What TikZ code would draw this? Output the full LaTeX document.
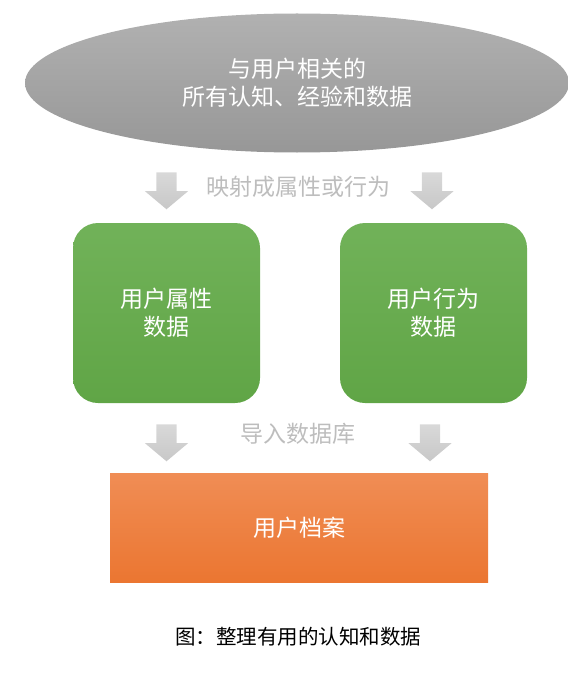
\documentclass[tikz,border=0pt]{standalone}
\usepackage{fontspec}
\setmainfont{Noto Sans CJK SC}
\usetikzlibrary{shapes.geometric, shapes.arrows}

\definecolor{ellgray}{HTML}{A3A3A3}
\definecolor{ellgraydark}{HTML}{979797}
\definecolor{boxgreen}{HTML}{71B259}
\definecolor{boxgreendark}{HTML}{60A546}
\definecolor{boxorange}{HTML}{F08D55}
\definecolor{boxorangedark}{HTML}{EB7631}
\definecolor{arrowgray}{HTML}{C8C8C8}
\definecolor{labelgray}{HTML}{BDBDBD}

\begin{document}
\begin{tikzpicture}[x=1pt, y=-1pt,
  bigtext/.style={font=\fontsize{23}{28}\selectfont, text=white, align=center},
  cloud/.style={ellipse, bigtext, minimum width=544pt, minimum height=139pt,
    top color=ellgray!85, bottom color=ellgraydark, inner sep=0pt},
  greenbox/.style={rectangle, rounded corners=25pt, bigtext, minimum width=187pt,
    minimum height=180pt, top color=boxgreen, bottom color=boxgreendark},
  orangebox/.style={rectangle, bigtext, minimum width=378pt, minimum height=109pt,
    top color=boxorange, bottom color=boxorangedark},
  downarrow/.style={single arrow, rotate=-90, minimum height=37pt, inner xsep=0pt,
    inner ysep=10pt, single arrow head extend=11.5pt, single arrow tip angle=100,
    top color=arrowgray!70, bottom color=arrowgray, draw=none},
  steplabel/.style={font=\fontsize{23}{28}\selectfont, text=labelgray}]
  \useasboundingbox (0,0) rectangle (567,690);

  % oben: alles, was man ueber den Nutzer weiss
  \node[cloud] (wissen) at (297,83) {与用户相关的\\所有认知、经验和数据};

  % Pfeile und Beschriftung der ersten Stufe
  \foreach \ax/\ay [count=\i] in {166.5/186.5, 432/186.5, 166.5/438.5, 430/438.5}
    \node[downarrow] (pfeil\i) at (\ax,\ay) {};
  \node[steplabel] (abbilden) at (298.5,187) {映射成属性或行为};

  % die beiden Datenarten
  \node[greenbox] (attribut) at (166.5,313) {用户属性\\数据};
  \node[greenbox] (verhalten) at (433.5,313) {用户行为\\数据};

  \node[steplabel] (import) at (298,434) {导入数据库};

  % unten: das Nutzerprofil
  \node[orangebox] (profil) at (299,527.5) {用户档案};

  \node[font=\fontsize{20.5}{24}\selectfont] (titel) at (298,637) {图：整理有用的认知和数据};
\end{tikzpicture}
\end{document}
